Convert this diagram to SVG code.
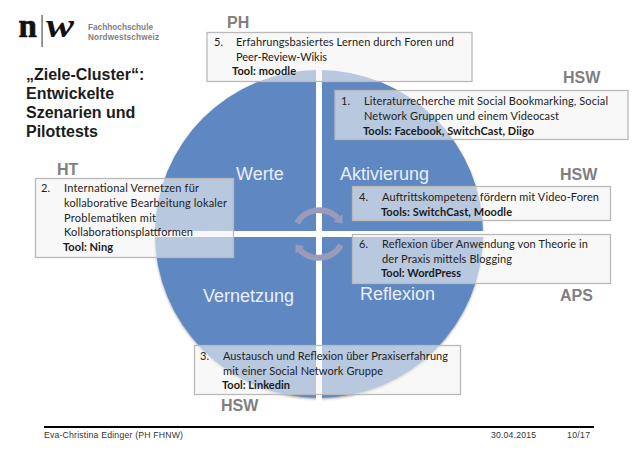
<svg xmlns="http://www.w3.org/2000/svg" width="638" height="452" viewBox="0 0 638 452">
<style>
text{font-family:"Liberation Sans",Arial,sans-serif}
.box{fill:#f4f4f4;fill-opacity:.6;stroke:#b9b9b9;stroke-width:1.3}
.t{font-family:Lato,"Open Sans",sans-serif;font-size:11px;fill:#222}
.b{font-family:Lato,"Open Sans",sans-serif;font-size:11px;font-weight:700;fill:#1a1a1a}
.org{font-size:16px;font-weight:700;fill:#7f7f7f}
.q{font-size:18px;fill:#e9eff8}
.head{font-size:16px;font-weight:700;fill:#1c1c1c}
.foot{font-size:8.7px;fill:#333}
.arc{fill:none;stroke:#9a9bbb;stroke-width:6}
.tip{fill:#9a9bbb}
</style>
<defs>
<filter id="sh" x="-5%" y="-5%" width="110%" height="110%"><feDropShadow dx="0" dy="1.2" stdDeviation="1" flood-color="#333" flood-opacity=".45"/></filter>
</defs>
<rect width="638" height="452" fill="#fff"/>
<g id="logo">
<text x="18.500" y="37" font-size="33" font-weight="700" style="font-family:'Liberation Serif',serif" fill="#111" stroke="#111" stroke-width=".7">n</text>
<rect x="41.300" y="15" width="1.500" height="32" fill="#777"/>
<text x="46" y="37" font-size="33" font-weight="700" font-style="italic" style="font-family:'Liberation Serif',serif" fill="#111" textLength="28" lengthAdjust="spacingAndGlyphs">w</text>
<text x="88" y="30" font-size="8.2" font-weight="700" fill="#808080" textLength="65">Fachhochschule</text>
<text x="88" y="40" font-size="8.2" font-weight="700" fill="#808080" textLength="71">Nordwestschweiz</text>
</g>
<g id="title">
<text class="head" x="26" y="80">„Ziele-Cluster“:</text>
<text class="head" x="26" y="99">Entwickelte</text>
<text class="head" x="26" y="118">Szenarien und</text>
<text class="head" x="26" y="137">Pilottests</text>
</g>
<g id="cycle">
<circle cx="319" cy="234" r="164" fill="#5f87c1" filter="url(#sh)"/>
<rect x="316" y="64" width="6" height="340" fill="#fff"/>
<rect x="150" y="231" width="340" height="6" fill="#fff"/>
<text class="q" x="236" y="180">Werte</text>
<text class="q" x="340" y="180">Aktivierung</text>
<text class="q" x="203" y="302">Vernetzung</text>
<text class="q" x="360" y="300">Reflexion</text>
</g>
<g id="connectors">
<path class="arc" d="M297 223A26 26 0 0 1 338 218"/>
<polygon class="tip" points="342.600,214.200 333.400,221.800 342.400,223.400"/>
<path class="arc" d="M341 245A26 26 0 0 1 300 250"/>
<polygon class="tip" points="304.600,246.200 295.400,253.800 295.600,244.600"/>
</g>
<g id="box5">
<rect class="box" x="207" y="32.500" width="265" height="49"/>
<text class="t" x="214" y="46">5.</text>
<text class="t" x="236" y="46" textLength="218">Erfahrungsbasiertes Lernen durch Foren und</text>
<text class="t" x="236" y="61" textLength="91">Peer-Review-Wikis</text>
<text class="b" x="232" y="75" textLength="64">Tool: moodle</text>
<text class="org" x="227" y="28">PH</text>
</g>
<g id="box1">
<rect class="box" x="335" y="90.500" width="293" height="49"/>
<text class="t" x="341" y="105">1.</text>
<text class="t" x="364" y="105" textLength="244">Literaturrecherche mit Social Bookmarking, Social</text>
<text class="t" x="364" y="120" textLength="195">Network Gruppen und einem Videocast</text>
<text class="b" x="363" y="135" textLength="171">Tools: Facebook, SwitchCast, Diigo</text>
<text class="org" x="563" y="83">HSW</text>
</g>
<g id="box4">
<rect class="box" x="352.500" y="186.500" width="258" height="34"/>
<text class="t" x="359" y="201">4.</text>
<text class="t" x="382" y="201" textLength="217">Auftrittskompetenz fördern mit Video-Foren</text>
<text class="b" x="381" y="216" textLength="131">Tools: SwitchCast, Moodle</text>
<text class="org" x="560" y="180">HSW</text>
</g>
<g id="box6">
<rect class="box" x="352.500" y="234.500" width="258" height="49"/>
<text class="t" x="359" y="248">6.</text>
<text class="t" x="382" y="248" textLength="206">Reflexion über Anwendung von Theorie in</text>
<text class="t" x="382" y="263" textLength="130">der Praxis mittels Blogging</text>
<text class="b" x="381" y="277" textLength="80">Tool: WordPress</text>
<text class="org" x="560" y="301">APS</text>
</g>
<g id="box2">
<rect class="box" x="35.500" y="178.500" width="198" height="79"/>
<text class="t" x="41" y="192">2.</text>
<text class="t" x="64" y="192" textLength="135">International Vernetzen für</text>
<text class="t" x="64" y="207" textLength="163">kollaborative Bearbeitung lokaler</text>
<text class="t" x="64" y="222" textLength="92">Problematiken mit</text>
<text class="t" x="64" y="236" textLength="129">Kollaborationsplattformen</text>
<text class="b" x="63" y="251" textLength="50">Tool: Ning</text>
<text class="org" x="57" y="175">HT</text>
</g>
<g id="box3">
<rect class="box" x="194.500" y="345.500" width="266" height="49"/>
<text class="t" x="200" y="360">3.</text>
<text class="t" x="223" y="360" textLength="225">Austausch und Reflexion über Praxiserfahrung</text>
<text class="t" x="223" y="375" textLength="160">mit einer Social Network Gruppe</text>
<text class="b" x="222" y="389" textLength="68">Tool: Linkedin</text>
<text class="org" x="221" y="411">HSW</text>
</g>
<g id="footer">
<rect x="44" y="426" width="550" height="2" fill="#000"/>
<text class="foot" x="44" y="438" textLength="139">Eva-Christina Edinger (PH FHNW)</text>
<text class="foot" x="491" y="438" textLength="45">30.04.2015</text>
<text class="foot" x="567" y="438" textLength="23">10/17</text>
</g>
</svg>
